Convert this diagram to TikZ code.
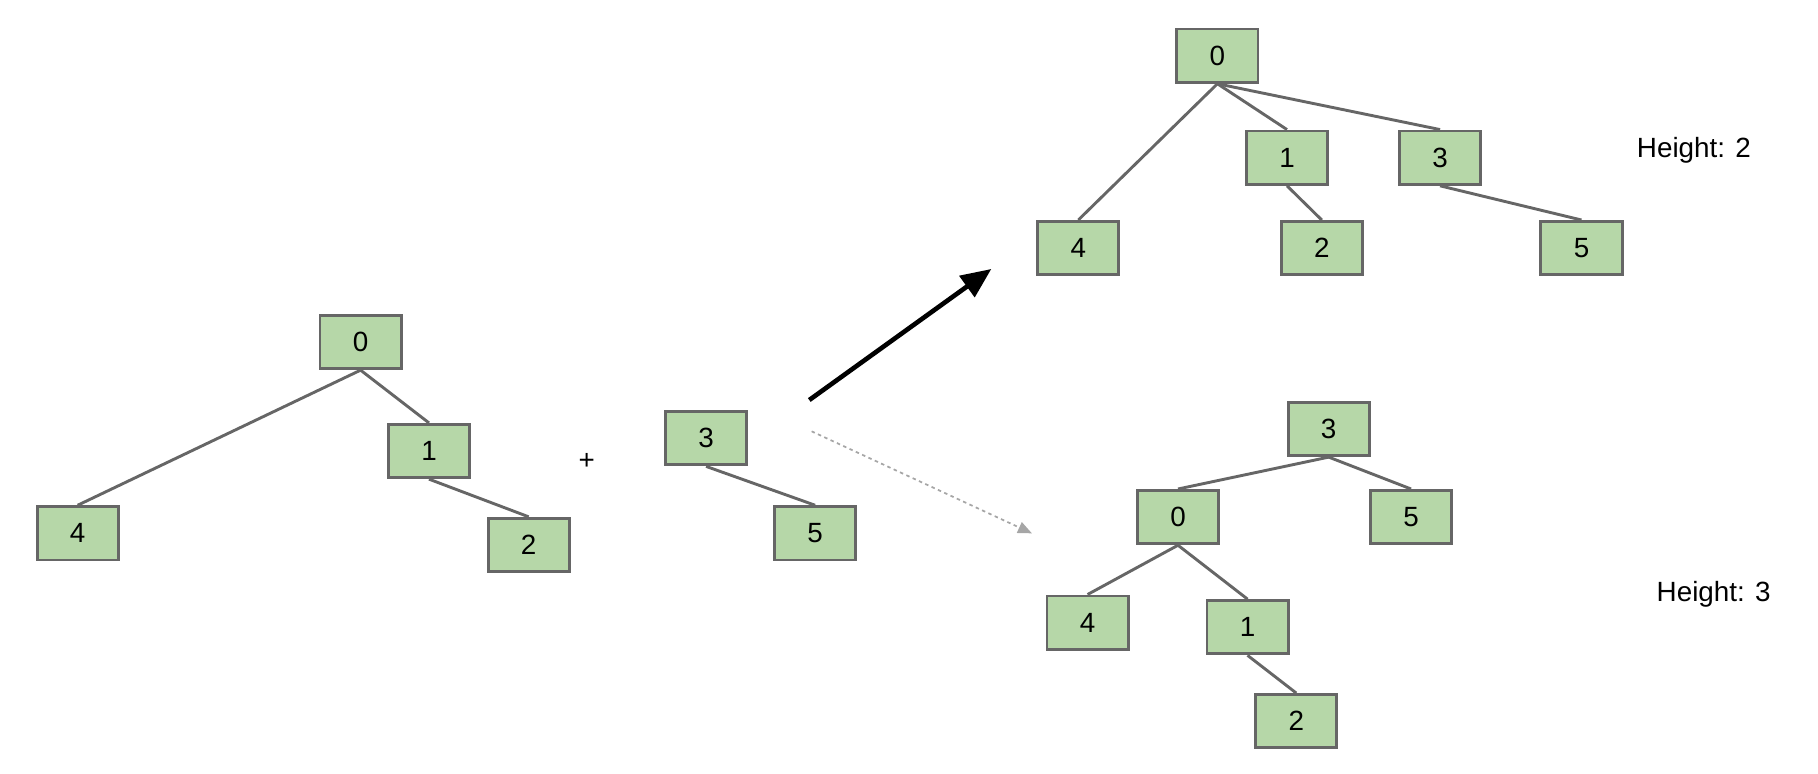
\documentclass[tikz,border=0pt]{standalone}
\usepackage{fontspec}
\setmainfont{Liberation Sans}
\usetikzlibrary{arrows.meta}
\definecolor{boxfill}{HTML}{B6D7A8}
\definecolor{boxline}{HTML}{666666}
\begin{document}
\begin{tikzpicture}[x=1pt,y=-1pt,
  tn/.style={draw=boxline,fill=boxfill,line width=2.5pt,minimum width=70pt,minimum height=46pt,inner sep=0pt,font=\fontsize{24}{28}\selectfont},
  ed/.style={draw=boxline,line width=2.5pt},
  lbl/.style={font=\fontsize{24}{28}\selectfont}]
\useasboundingbox (0,0) rectangle (1568,667);
% left tree
\node[tn] (a0) at (311,295) {0};
\node[tn] (a1) at (370,389) {1};
\node[tn] (a4) at (67,460) {4};
\node[tn] (a2) at (456,470) {2};
\draw[ed] (a0.south) -- (a4.north);
\draw[ed] (a0.south) -- (a1.north);
\draw[ed] (a1.south) -- (a2.north);
\node[lbl] (plus) at (506,398) {+};
% middle tree
\node[tn] (b3) at (609,378) {3};
\node[tn] (b5) at (703,460) {5};
\draw[ed] (b3.south) -- (b5.north);
% arrows
\coordinate (s1) at (698,345);
\coordinate (e1) at (855,232);
\draw[line width=4pt,-{Triangle[length=26pt,width=22pt]}] (s1) -- (e1);
\coordinate (s2) at (700,372);
\coordinate (e2) at (890,460);
\draw[gray!70,line width=1.5pt,dashed,-{Triangle[length=12pt,width=10pt]}] (s2) -- (e2);
% top right tree
\node[tn] (c0) at (1050,48) {0};
\node[tn] (c1) at (1110,136) {1};
\node[tn] (c3) at (1242,136) {3};
\node[tn] (c4) at (930,214) {4};
\node[tn] (c2) at (1140,214) {2};
\node[tn] (c5) at (1364,214) {5};
\draw[ed] (c0.south) -- (c4.north);
\draw[ed] (c0.south) -- (c1.north);
\draw[ed] (c0.south) -- (c3.north);
\draw[ed] (c1.south) -- (c2.north);
\draw[ed] (c3.south) -- (c5.north);
\node[lbl] (h2) at (1461,130) {Height: 2};
% bottom right tree
\node[tn] (d3) at (1146,370) {3};
\node[tn] (d0) at (1016,446) {0};
\node[tn] (d5) at (1217,446) {5};
\node[tn] (d4) at (938,537) {4};
\node[tn] (d1) at (1076,541) {1};
\node[tn] (d2) at (1118,622) {2};
\draw[ed] (d3.south) -- (d0.north);
\draw[ed] (d3.south) -- (d5.north);
\draw[ed] (d0.south) -- (d4.north);
\draw[ed] (d0.south) -- (d1.north);
\draw[ed] (d1.south) -- (d2.north);
\node[lbl] (h3) at (1478,513) {Height: 3};
\end{tikzpicture}
\end{document}
